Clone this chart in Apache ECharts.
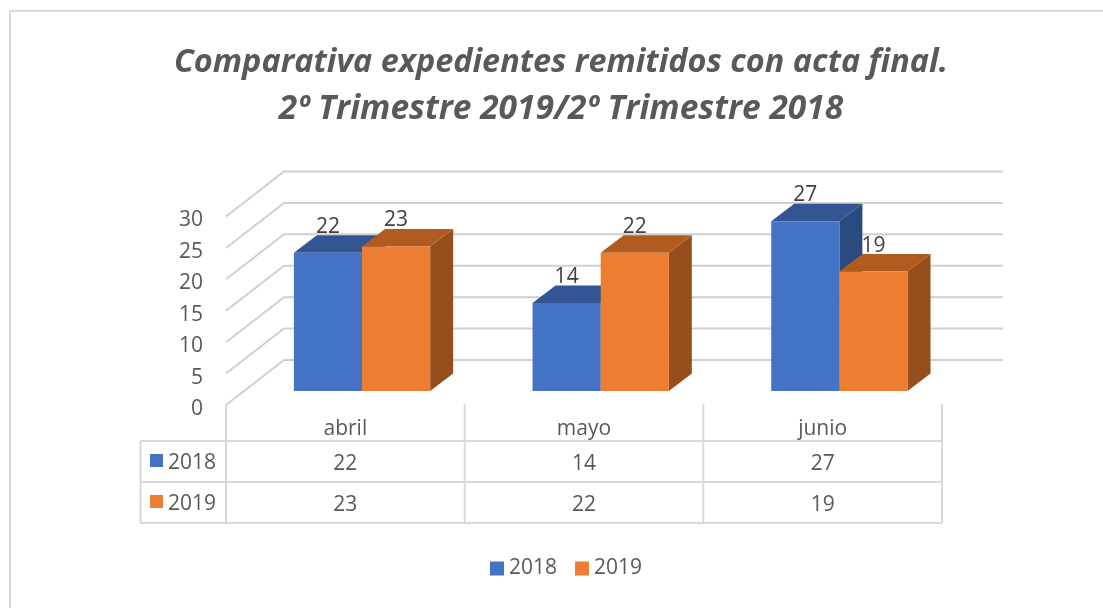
<!DOCTYPE html>
<html><head><meta charset="utf-8">
<style>html,body{margin:0;padding:0;background:#fff}#c{width:1103px;height:608px}</style>
<script src="https://cdn.jsdelivr.net/npm/echarts@6/dist/echarts.min.js"></script>
</head><body><div id="c"></div>
<script>
var titleLine1 = 'Comparativa expedientes remitidos con acta final.';
var titleLine2 = '2º Trimestre 2019/2º Trimestre 2018';
var categories = ['abril', 'mayo', 'junio'];
var years = ['2018', '2019'];
var values2018 = [22, 14, 27];
var values2019 = [23, 22, 19];
var yTicks = [0, 5, 10, 15, 20, 25, 30];

var FONT = '"Open Sans", sans-serif';
var TXT = '#595959', LINE = '#d9d9d9';
var palette = [
  {front:'#4472C4', top:'#335593', side:'#2A4A80'},
  {front:'#ED7D31', top:'#B25B21', side:'#964F1C'}
];
var rowY = [464, 505];

function barSeries(name, vals, idx){
  var c = palette[idx];
  return {
    name:name, type:'custom', coordinateSystem:'cartesian2d', clip:false, z:3 + idx,
    itemStyle:{color:c.front},
    encode:{x:0,y:1},
    data: vals.map(function(v,i){return [i,v];}),
    renderItem:function(params, api){
      var p = api.coord([api.value(0), api.value(1)]);
      var p0 = api.coord([api.value(0), 0]);
      var catW = api.size([1,0])[0];
      var w = catW * 0.2855;
      var l = p[0] + 16.7 + (idx === 0 ? -w : 0), r = l + w;
      var t = p[1] - 14, b = p0[1] - 14;
      var dx = 23, dy = 17.5;
      function poly(pts, col){return {type:'polygon', shape:{points:pts}, style:{fill:col}};}
      return {type:'group', children:[
        poly([[r,t],[r+dx,t-dy],[r+dx,b-dy],[r,b]], c.side),
        poly([[l,t],[r,t],[r+dx,t-dy],[l+dx,t-dy]], c.top),
        poly([[l,t],[r,t],[r,b],[l,b]], c.front),
        {type:'text', z2:10, style:{x:(l+r)/2, y:t-26, text:String(api.value(1)), fill:'#404040',
          font:'21px '+FONT, align:'center', verticalAlign:'middle'}}
      ]};
    }
  };
}

var option = {
  animation:false,
  backgroundColor:'#fff',
  title:{text:'{a|'+titleLine1+'}\n{b|'+titleLine2+'}', left:556, top:35, textAlign:'center',
    textStyle:{rich:{
      a:{fontFamily:FONT, fontSize:32.4, fontWeight:'bold', fontStyle:'italic', color:TXT, lineHeight:46},
      b:{fontFamily:FONT, fontSize:33.5, fontWeight:'bold', fontStyle:'italic', color:TXT, lineHeight:46}
    }}},
  legend:{data:years, left:485, top:553, itemWidth:14, itemHeight:14, itemGap:18, icon:'rect',
    textStyle:{fontFamily:FONT, fontSize:21, color:TXT}},
  grid:{left:226, top:216.5, width:716, height:188.5},
  xAxis:{type:'category', data:categories, axisLine:{show:false}, axisTick:{show:false},
    axisLabel:{fontFamily:FONT, fontSize:21, color:TXT, margin:14}},
  yAxis:{type:'value', min:0, max:30, interval:5, axisLine:{show:false}, axisTick:{show:false}, splitLine:{show:false},
    axisLabel:{fontFamily:FONT, fontSize:21, color:TXT, margin:23, verticalAlign:'top', lineHeight:8}},
  graphic:[
    {type:'polyline', silent:true, z:0, shape:{points:[[10,608],[10,11],[1103,11]]}, style:{fill:'none',stroke:LINE,lineWidth:2}}
  ],
  series:[
    {name:'grid3d', type:'custom', coordinateSystem:'cartesian2d', clip:false, z:1,
     encode:{x:0,y:1}, data:yTicks.map(function(v){return [0,v];}),
     renderItem:function(params, api){
       var y = api.coord([0, api.value(1)])[1];
       var x0 = params.coordSys.x;
       return {type:'polyline', shape:{points:[[x0,y],[x0+58,y-45],[1003,y-45]]},
         style:{fill:'none', stroke:'#d0d0d0', lineWidth:2}};
     }},
    barSeries(years[0], values2018, 0),
    barSeries(years[1], values2019, 1),
    {name:'tableLines', type:'custom', coordinateSystem:'cartesian2d', clip:false, z:1,
     encode:{x:0,y:1}, data:[[0,0]],
     renderItem:function(params, api){
       var cs = params.coordSys, kids = [];
       var cw = cs.width / categories.length;
       function ln(a,b,c,d){kids.push({type:'line', shape:{x1:a,y1:b,x2:c,y2:d}, style:{stroke:LINE,lineWidth:2}});}
       [441,482,523].forEach(function(y){ln(140.5,y,cs.x+cs.width,y);});
       ln(140.5,441,140.5,523);
       for(var i=0;i<=categories.length;i++){ln(cs.x+i*cw,404,cs.x+i*cw,523);}
       return {type:'group', children:kids};
     }},
    {name:'tableCells', type:'custom', coordinateSystem:'cartesian2d', clip:false, z:2,
     encode:{x:0,y:1},
     data:[values2018, values2019].reduce(function(a,vals,r){
       vals.forEach(function(v,i){a.push([i,r,v]);}); return a;},[]),
     renderItem:function(params, api){
       return {type:'text', style:{x:api.coord([api.value(0),0])[0], y:rowY[api.value(1)],
         text:String(api.value(2)), fill:TXT, font:'21px '+FONT, align:'center', verticalAlign:'middle'}};
     }},
    {name:'tableKeys', type:'custom', coordinateSystem:'cartesian2d', clip:false, z:2,
     encode:{x:0,y:1}, data:years.map(function(y,r){return [0,r];}),
     renderItem:function(params, api){
       var r = api.value(1), y = rowY[r];
       return {type:'group', children:[
         {type:'rect', shape:{x:150,y:y-10,width:13,height:13}, style:{fill:palette[r].front}},
         {type:'text', style:{x:168,y:y-1,text:years[r],fill:TXT,font:'21px '+FONT,align:'left',verticalAlign:'middle'}}
       ]};
     }}
  ]
};
var chart = echarts.init(document.getElementById('c'), null, {renderer:'canvas'});
chart.setOption(option);
</script></body></html>
